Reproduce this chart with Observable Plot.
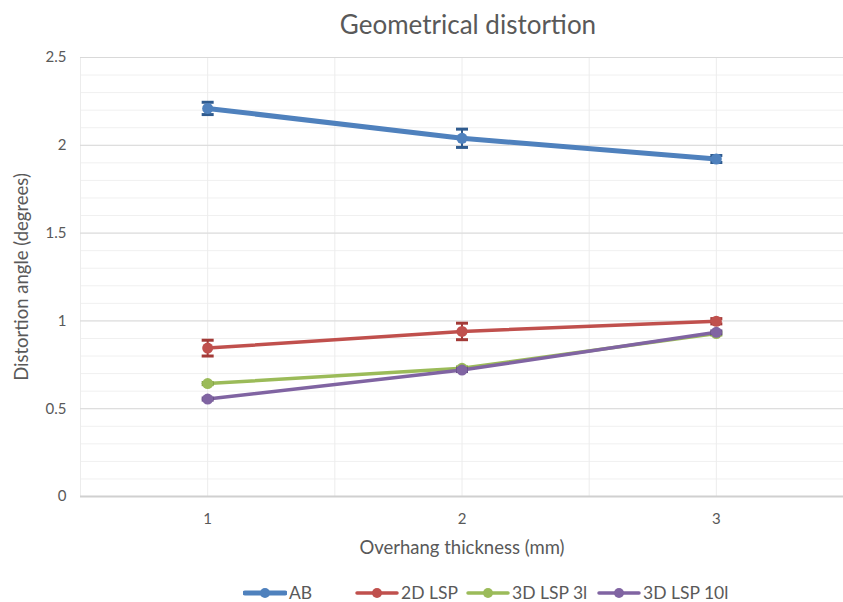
<!DOCTYPE html>
<html><head><meta charset="utf-8">
<script src="https://cdn.jsdelivr.net/npm/d3@7"></script>
<script src="https://cdn.jsdelivr.net/npm/@observablehq/plot@0.6"></script>
<style>
body{margin:0;background:#fff;font-family:Lato,"Open Sans",sans-serif;}
#wrap{position:relative;width:843px;height:602px;overflow:hidden;}
#title{position:absolute;left:0;top:0;width:936px;height:48px;text-align:center;line-height:48px;font-size:26px;color:#595959;}
#chart{position:absolute;left:0;top:40px;}
#legend{position:absolute;top:583px;left:0;width:843px;height:19px;font-size:17.5px;color:#595959;}
#legend .item{position:absolute;top:0;height:19px;display:flex;align-items:center;white-space:nowrap;line-height:19px;}
#legend svg{margin-right:2px;}
</style></head>
<body><div id="wrap"><div id="title">Geometrical distortion</div><div id="chart"></div><div id="legend"></div></div>
<script>
const thickness = [1, 2, 3];
const seriesNames = ["AB", "2D LSP", "3D LSP 3l", "3D LSP 10l"];
const ab = [2.21, 2.04, 1.922];
const abErr = [0.035, 0.052, 0.02];
const lsp2d = [0.845, 0.94, 0.998];
const lsp2dErr = [0.045, 0.047, 0.015];
const lsp3d3 = [0.643, 0.73, 0.928];
const lsp3d3Err = [0.006, 0.008, 0.008];
const lsp3d10 = [0.555, 0.72, 0.935];
const lsp3d10Err = [0.006, 0.008, 0.008];
const colors = ["#4f81bd", "#c0504d", "#9bbb59", "#8064a2"];
const errColors = ["#2f5b8f", "#a33a37", "#7f9d43", "#654d86"];
const widths = [5, 3.5, 3.5, 3.5];
const yTicks = [0, 0.5, 1, 1.5, 2, 2.5];
const legendLeft = [243, 355, 466, 597];

const values = [ab, lsp2d, lsp3d3, lsp3d10];
const errs = [abErr, lsp2dErr, lsp3d3Err, lsp3d10Err];
const data = [];
seriesNames.forEach((s, i) => thickness.forEach((t, j) =>
  data.push({series: s, idx: i, x: t, y: values[i][j], e: errs[i][j]})));

const capSymbol = {draw(ctx, size) { const r = Math.sqrt(size / Math.PI); ctx.moveTo(-r, 0); ctx.lineTo(r, 0); }};
const minor = d3.range(0, 2.51, 0.1).map(v => +v.toFixed(2));

const marks = [
  Plot.ruleY(minor, {stroke: "#f0f0f0", strokeWidth: 1}),
  Plot.ruleX([0.5, 1, 1.5, 2, 2.5, 3, 3.5], {stroke: "#ececec", strokeWidth: 1}),
  Plot.ruleY(yTicks.slice(1), {stroke: "#d9d9d9", strokeWidth: 1}),
  Plot.ruleY([0], {stroke: "#d0d0d0", strokeWidth: 2}),
  Plot.axisY(yTicks, {tickSize: 0, tickPadding: 14, fontSize: 15, fill: "#595959", tickFormat: d => String(d), label: null}),
  Plot.axisX(thickness, {tickSize: 0, tickPadding: 17, fontSize: 15, fill: "#595959", tickFormat: d => String(d), label: null}),
];
seriesNames.forEach((s, i) => {
  const d = data.filter(r => r.idx === i);
  marks.push(
    Plot.line(d, {x: "x", y: "y", stroke: colors[i], strokeWidth: widths[i], strokeLinecap: "round"}),
    Plot.ruleX(d, {x: "x", y1: r => r.y - r.e, y2: r => r.y + r.e, stroke: errColors[i], strokeWidth: 2}),
    Plot.dot(d, {x: "x", y: r => r.y - r.e, symbol: capSymbol, r: 6, stroke: errColors[i], strokeWidth: 3}),
    Plot.dot(d, {x: "x", y: r => r.y + r.e, symbol: capSymbol, r: 6, stroke: errColors[i], strokeWidth: 3}),
    Plot.dot(d, {x: "x", y: "y", r: 5.5, fill: colors[i], stroke: null})
  );
});
marks.push(
  Plot.text(["Overhang thickness (mm)"], {frameAnchor: "bottom", dy: 57, text: d => d, fontSize: 18.5, fill: "#595959"}),
  Plot.text(["Distortion angle (degrees)"], {frameAnchor: "left", textAnchor: "middle", dx: -58, rotate: -90, text: d => d, fontSize: 18.5, fill: "#595959"})
);

const chart = Plot.plot({
  width: 843, height: 540,
  marginTop: 17, marginBottom: 84, marginLeft: 80, marginRight: 0,
  x: {domain: [0.5, 3.5], axis: null},
  y: {domain: [0, 2.5], axis: null},
  style: {fontFamily: "Lato, 'Open Sans', sans-serif", background: "#fff", overflow: "visible"},
  marks
});
document.getElementById("chart").appendChild(chart);

const leg = document.getElementById("legend");
seriesNames.forEach((s, i) => {
  const it = document.createElement("div"); it.className = "item";
  it.style.left = legendLeft[i] + "px";
  it.innerHTML = `<svg width="44" height="14"><line x1="2" x2="42" y1="7" y2="7" stroke="${colors[i]}" stroke-width="${widths[i]}" stroke-linecap="round"/><circle cx="22" cy="7" r="5" fill="${colors[i]}"/></svg><span>${s}</span>`;
  leg.appendChild(it);
});
</script></body></html>
